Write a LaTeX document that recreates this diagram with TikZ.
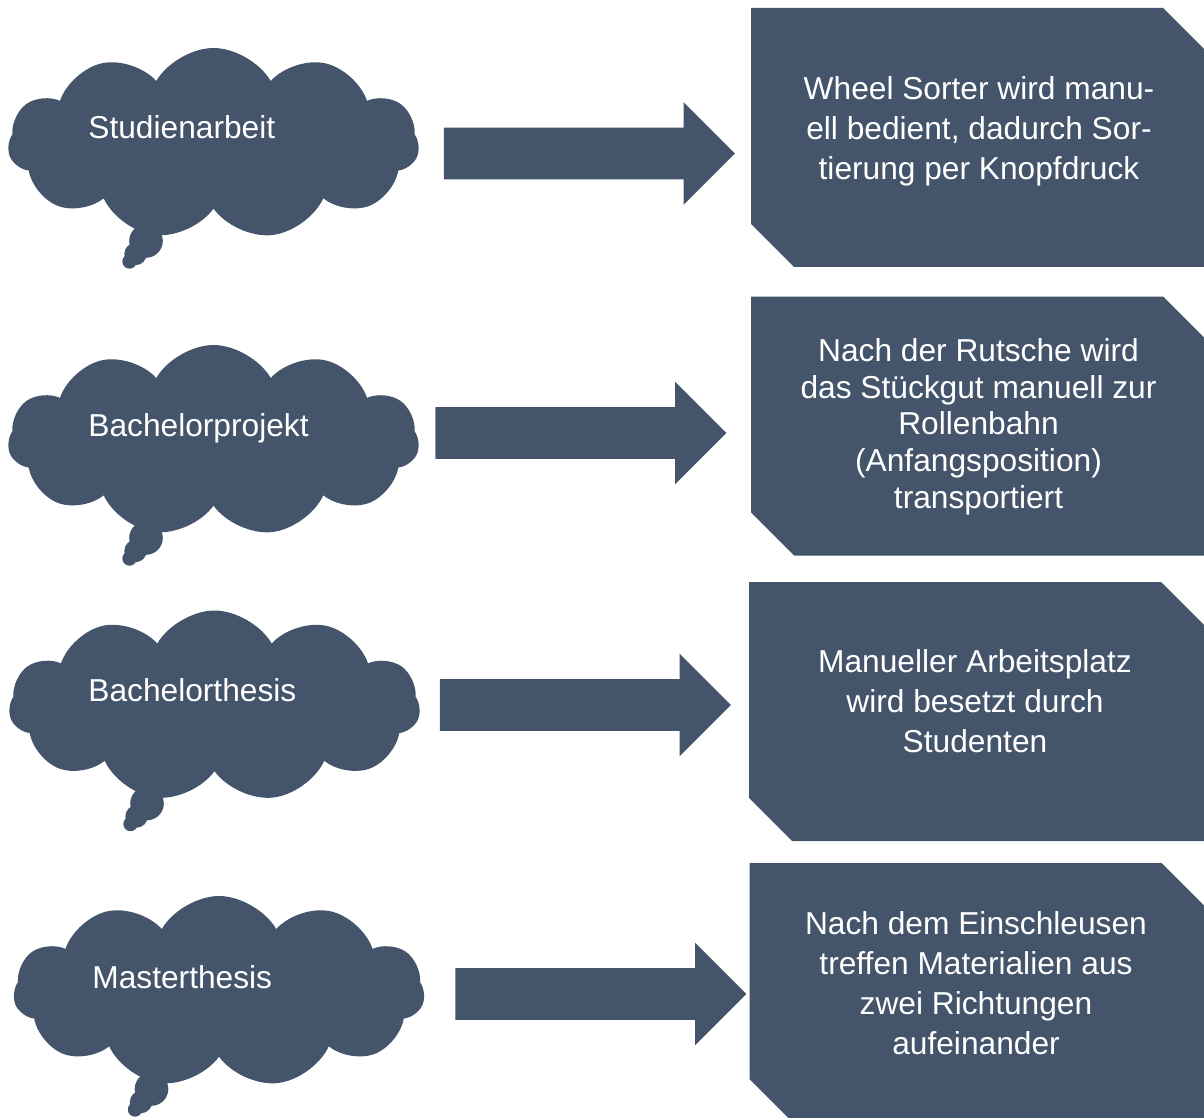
\documentclass[tikz,border=0pt]{standalone}
\usepackage{fontspec}
\setmainfont{Liberation Sans}
\usetikzlibrary{shapes.symbols,shapes.arrows}
\definecolor{slate}{HTML}{44546A}
\newcommand{\bodyfont}{\fontsize{15.85}{20}\selectfont}
\newcommand{\tightfont}{\fontsize{15.85}{18.4}\selectfont}
% three small puffs under each thought cloud
\newcommand{\thoughttail}[1]{%
  \fill[slate] ([shift={(-67.5,97.5)}]#1.center) circle (8.4pt);
  \fill[slate] ([shift={(-78,110.5)}]#1.center) circle (5.6pt);
  \fill[slate] ([shift={(-84,118)}]#1.center) circle (3.6pt);}

\begin{document}
\begin{tikzpicture}[x=0.5pt,y=-0.5pt,
 thought/.style={cloud,cloud puffs=11,cloud puff arc=120,cloud ignores aspect,
 fill=slate,inner sep=0pt,minimum width=205.5pt,minimum height=95.5pt},
 ctext/.style={text=white,anchor=base west,font=\bodyfont,inner sep=0pt},
 push/.style={single arrow,single arrow tip angle=90,
 single arrow head extend=12.75pt,fill=slate,inner xsep=0pt,
 inner ysep=12.75pt,minimum height=145.5pt},
 card/.style={rectangle,inner sep=0pt,minimum width=227.5pt,minimum height=129.5pt,
 path picture={\fill[slate] (path picture bounding box.north west)
 -- ([xshift=-21.5pt]path picture bounding box.north east)
 -- ([yshift=-21.5pt]path picture bounding box.north east)
 -- (path picture bounding box.south east)
 -- ([xshift=21.5pt]path picture bounding box.south west)
 -- ([yshift=21.5pt]path picture bounding box.south west) -- cycle;}},
 btext/.style={text=white,align=center,anchor=north,font=\bodyfont,inner sep=0pt}]
\useasboundingbox (0,0) rectangle (1204,1118);

% row 1
\node[thought] (study) at (213.5,143.5) {};
\thoughttail{study}
\node[ctext] (studyname) at (88,139) {Studienarbeit};
\node[push] (studyarrow) at (576.5,153.5) {};
\node[card] (studybox) at (978.5,137.5) {};
\node[btext] (studytext) at (979,76) {Wheel Sorter wird manu-\\ell bedient, dadurch Sor-\\tierung per Knopfdruck};

% row 2
\node[thought] (bproj) at (213.5,440.5) {};
\thoughttail{bproj}
\node[ctext] (bprojname) at (88,436) {Bachelorprojekt};
\node[push] (bprojarrow) at (568,433) {};
\node[card] (bprojbox) at (978.5,426) {};
\node[btext,font=\tightfont] (bprojtext) at (978.5,338) {Nach der Rutsche wird\\das Stückgut manuell zur\\Rollenbahn\\(Anfangsposition)\\transportiert};

% row 3
\node[thought] (bthesis) at (214.5,706) {};
\thoughttail{bthesis}
\node[ctext] (bthesisname) at (88,701) {Bachelorthesis};
\node[push] (bthesisarrow) at (572.5,705) {};
\node[card] (bthesisbox) at (976.5,711.5) {};
\node[btext] (bthesistext) at (975,649) {Manueller Arbeitsplatz\\wird besetzt durch\\Studenten};

% row 4
\node[thought] (master) at (219,991.5) {};
\thoughttail{master}
\node[ctext] (mastername) at (92,988) {Masterthesis};
\node[push] (masterarrow) at (588,994) {};
\node[card] (masterbox) at (977,992.5) {};
\node[btext] (mastertext) at (976,911) {Nach dem Einschleusen\\treffen Materialien aus\\zwei Richtungen\\aufeinander};
\end{tikzpicture}
\end{document}
